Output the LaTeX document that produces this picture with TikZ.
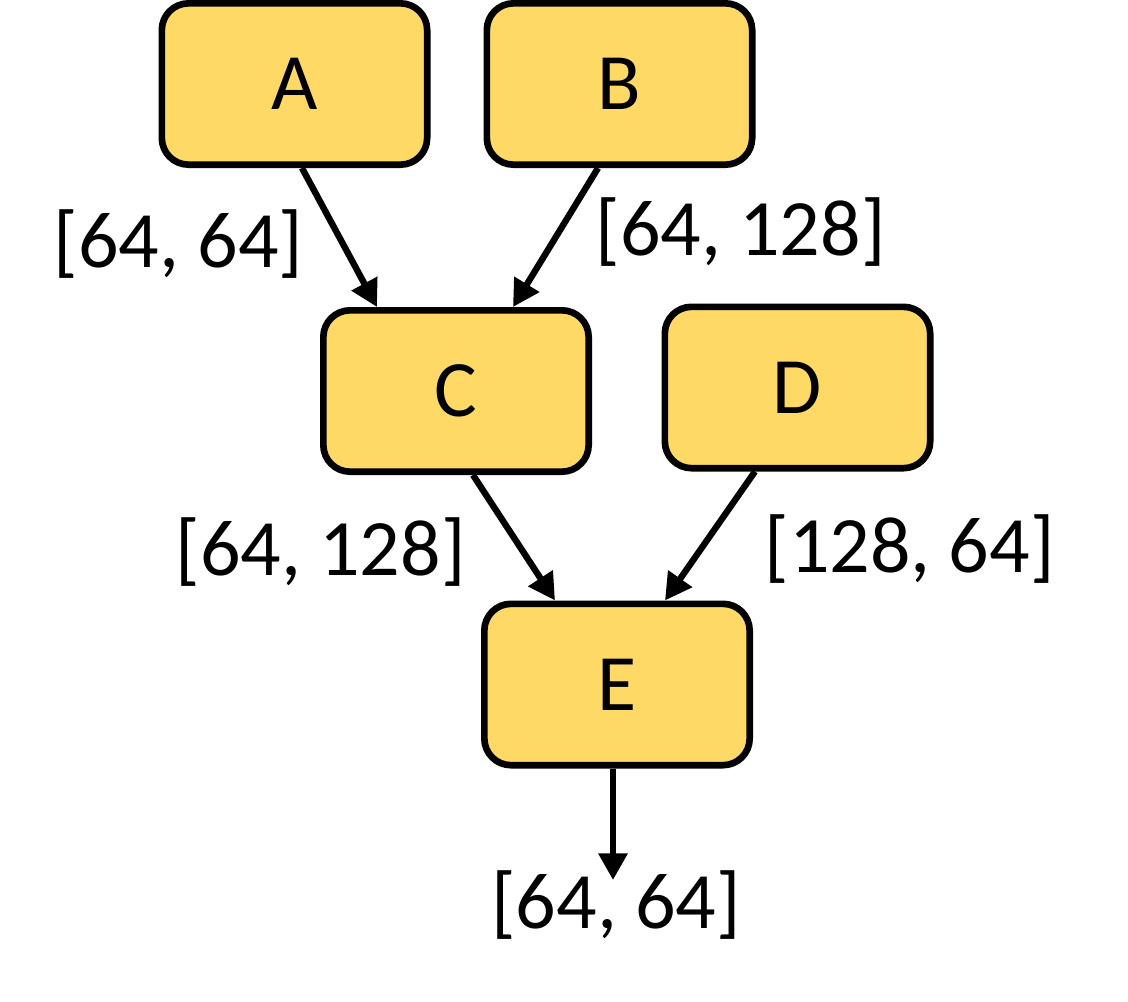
\documentclass[tikz,border=0pt]{standalone}
\usepackage{xcolor}
\usepackage{fontspec}
\setmainfont{Carlito}
\usepackage{tikz}
\usetikzlibrary{arrows.meta}
\definecolor{blkfill}{HTML}{FFD966}

\begin{document}
\begin{tikzpicture}[x=0.75pt,y=0.75pt,yscale=-1,
    blk/.style={draw=black,line width=5pt,fill=blkfill,rounded corners=20pt,minimum width=199pt,minimum height=121pt,inner sep=0pt,font=\fontsize{60}{72}\selectfont},
    dims/.style={inner sep=0pt,anchor=base,font=\fontsize{60}{72}\selectfont},
    arr/.style={line width=4.8pt,-{Triangle[length=20pt,width=21pt]}}]
        \useasboundingbox (0,0) rectangle (1128,1001);

        %Shape: Rounded Rect [id:a] 
        \node [blk] (a) at (294.5,84) {A};
        %Shape: Rounded Rect [id:b] 
        \node [blk] (b) at (619.5,84) {B};
        %Shape: Rounded Rect [id:c] 
        \node [blk] (c) at (456,391) {C};
        %Shape: Rounded Rect [id:d] 
        \node [blk] (d) at (797.5,387.5) {D};
        %Shape: Rounded Rect [id:e] 
        \node [blk] (e) at (617,684.5) {E};

        %Straight Lines [id:ac] 
        \draw [arr] ([xshift=5.6pt]a.south) -- ([xshift=-59.25pt]c.north) ;
        %Straight Lines [id:bc] 
        \draw [arr] ([xshift=-16.1pt]b.south) -- ([xshift=42.75pt]c.north) ;
        %Straight Lines [id:ce] 
        \draw [arr] ([xshift=12.75pt]c.south) -- ([xshift=-46.5pt]e.north) ;
        %Straight Lines [id:de] 
        \draw [arr] ([xshift=-31.9pt]d.south) -- ([xshift=36pt]e.north) ;
        %Straight Lines [id:eout] 
        \coordinate (eout) at (613,880);
        \draw [arr] (e.south -| eout) -- (eout) ;

        %Text: shapes 
        \node [dims] (lac) at (178.5,267) {[64, 64]};
        \node [dims] (lbc) at (740.5,255) {[64, 128]};
        \node [dims] (lce) at (320.5,575) {[64, 128]};
        \node [dims] (lde) at (909.5,572) {[128, 64]};
        \node [dims] (lout) at (616,928) {[64, 64]};
        \end{tikzpicture}
\end{document}
